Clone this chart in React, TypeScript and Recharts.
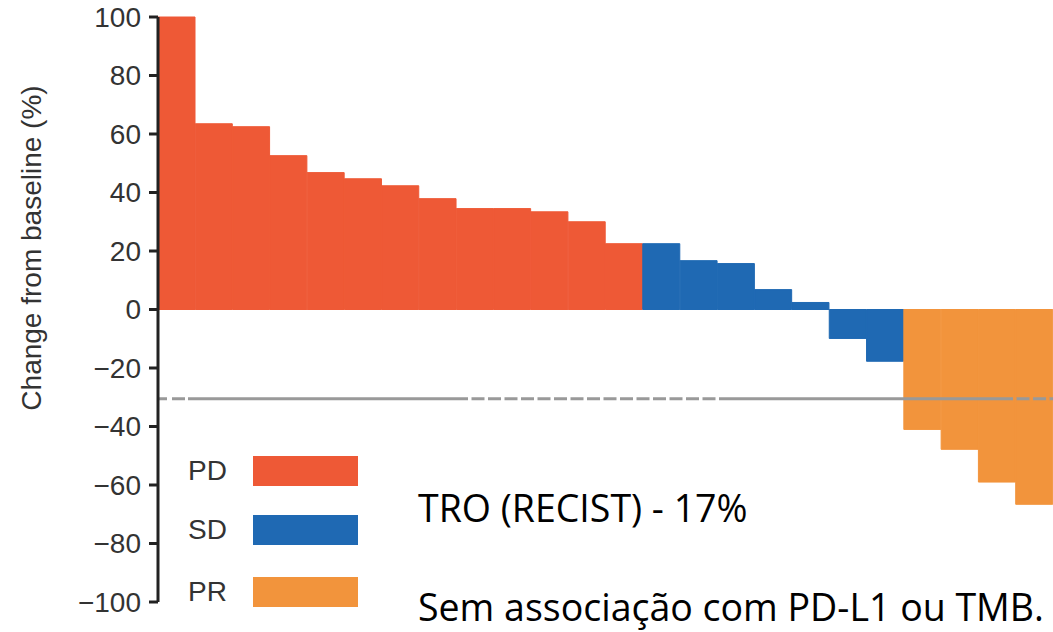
import React from 'react';
import { BarChart, Bar, XAxis, YAxis, Cell, ReferenceLine, Legend, Customized } from 'recharts';

// Best % change from baseline per patient, grouped by response
const pdValues = [100, 63.5, 62.5, 52.6, 46.8, 44.7, 42.3, 37.9, 34.5, 34.5, 33.4, 30, 22.5];
const sdValues = [22.5, 16.7, 15.7, 6.8, 2.4, -9.9, -17.7];
const prValues = [-41, -47.8, -59, -66.6];
const yTicks = [100, 80, 60, 40, 20, 0, -20, -40, -60, -80, -100];
const responseThreshold = -30.5;
const groupNames = ['PD', 'SD', 'PR'];
const yAxisTitle = 'Change from baseline (%)';
const noteLines = ['TRO (RECIST) - 17%', 'Sem associação com PD-L1 ou TMB.'];

const colors: Record<string, string> = { PD: '#EE5936', SD: '#1F69B3', PR: '#F2943C' };

const data = [
  ...pdValues.map((v) => ({ group: 'PD', value: v })),
  ...sdValues.map((v) => ({ group: 'SD', value: v })),
  ...prValues.map((v) => ({ group: 'PR', value: v })),
].map((d, i) => ({ ...d, id: `P${i + 1}` }));

const tickFmt = (v: number) => (v < 0 ? '\u2212' + Math.abs(v) : String(v));

// dash pattern of the threshold line (style only)
const dash: number[] = [9, 5, 13, 3, 280];
for (let i = 0; i < 16; i++) dash.push(3.5, i === 15 ? 13 + 281 : 13);
for (let i = 0; i < 3; i++) dash.push(3.5, 13);

const Overlay = () => (
  <g>
    <text
      x={31}
      y={248}
      transform="rotate(-90, 31, 248)"
      textAnchor="middle"
      dominantBaseline="central"
      fontFamily="Liberation Sans, Arial, sans-serif"
      fontSize={28}
      fill="#333"
    >
      {yAxisTitle}
    </text>
    <text x={418} y={522} fontFamily="Open Sans, sans-serif" fontSize={37.5} fill="#000">
      {noteLines[0]}
    </text>
    <text x={418} y={621} fontFamily="Open Sans, sans-serif" fontSize={37.5} fill="#000">
      {noteLines[1]}
    </text>
  </g>
);

const LegendContent = () => (
  <div style={{ position: 'relative', width: 0, height: 0 }}>
    {groupNames.map((g, i) => {
      const top = [456, 515, 577][i];
      return (
        <React.Fragment key={g}>
          <div
            style={{
              position: 'absolute',
              left: 188,
              top: top,
              height: 30,
              lineHeight: '30px',
              fontFamily: 'Liberation Sans, Arial, sans-serif',
              fontSize: 28,
              color: '#333',
              whiteSpace: 'nowrap',
            }}
          >
            {g}
          </div>
          <div
            style={{
              position: 'absolute',
              left: 253,
              top: top,
              width: 105,
              height: 30,
              background: colors[g],
            }}
          />
        </React.Fragment>
      );
    })}
  </div>
);

export default function App() {
  return (
    <div style={{ position: 'absolute', left: 0, top: 0, width: 1053, height: 632, background: '#fff' }}>
      <BarChart
        width={1053}
        height={632}
        data={data}
        margin={{ top: 17, right: 0, bottom: 30, left: 0 }}
        barCategoryGap={0}
        barGap={0}
      >
        <XAxis dataKey="id" hide />
        <YAxis
          width={158}
          domain={[-100, 100]}
          ticks={yTicks}
          interval={0}
          tickFormatter={tickFmt}
          axisLine={{ stroke: '#222', strokeWidth: 3 }}
          tickLine={{ stroke: '#222', strokeWidth: 3 }}
          tickSize={9}
          tickMargin={8}
          tick={{ fontSize: 28, fill: '#333', fontFamily: 'Liberation Sans, Arial, sans-serif' }}
        />
        <Bar dataKey="value" isAnimationActive={false}>
          {data.map((d) => (
            <Cell key={d.id} fill={colors[d.group]} stroke={colors[d.group]} strokeWidth={1} />
          ))}
        </Bar>
        <ReferenceLine
          y={responseThreshold}
          stroke="#999"
          strokeWidth={3}
          strokeDasharray={dash.join(' ')}
        />
        <Legend
          content={<LegendContent />}
          wrapperStyle={{ position: 'absolute', left: 0, top: 0, width: 0, height: 0 }}
        />
        <Customized component={<Overlay />} />
      </BarChart>
    </div>
  );
}
